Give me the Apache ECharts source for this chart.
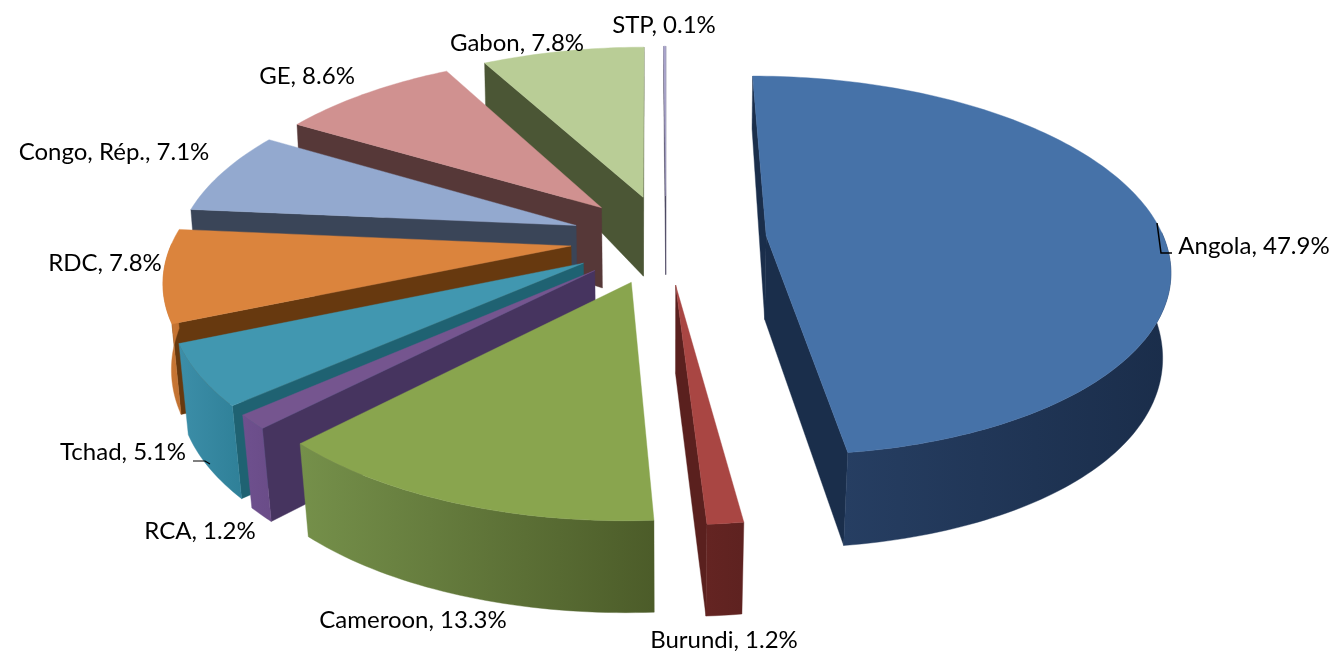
<!DOCTYPE html>
<html>
<head>
<meta charset="utf-8">
<style>html,body{margin:0;padding:0;background:#fff}#c{width:1340px;height:651px}</style>
<script src="https://cdn.jsdelivr.net/npm/echarts@6/dist/echarts.min.js"></script>
</head>
<body>
<div id="c"></div>
<script>
const categories = ['Angola','Burundi','Cameroon','RCA','Tchad','RDC','Congo, Rép.','GE','Gabon','STP'];
const shares = [47.9,1.2,13.3,1.2,5.1,7.8,7.1,8.6,7.8,0.1];

const topColors  = ['#4672A8','#A94643','#89A54E','#75558F','#4197B0','#DB843D','#93A9CF','#D09190','#B9CD96','#A9A4CC'];
const edgeColors = ['#1A2E4B','#5A201E','#4F5F2B','#46345F','#1F6272','#67390F','#3A4558','#563838','#4B5635','#3F3A55'];
const rimLeft    = ['#263E62','#642422','#75904A','#6E508E','#3C8EA8','#CF7C38','#6E84A8','#A06E6E','#8FA070','#555555'];
const rimRight   = ['#1A2D4A','#5E2220','#4C5C29','#6A4C88','#2F8098','#C07030','#60769A','#906060','#8A9A6A','#555555'];
const stack      = {9:0,8:1,7:2,6:3,5:4,4:5,3:6,2:7,0:8,1:9};
const labelCentres = [[1254,246],[724,640],[413,620],[200,531],[123,452],[105,263],[114,152],[307,76],[517,43],[664,25]];

const view = {cx:666, cy:239, A:398, B:185.8, k:0.157};
const explodeBy = [0.253,0.24,0.24,0.24,0.24,0.24,0.24,0.24,0.24,0.24];
const total = shares.reduce(function(a,b){return a+b;},0);
const starts = [];
shares.reduce(function(acc,v,i){starts[i]=acc;return acc+v/total*Math.PI*2;},0);

function wallHeight(y){return 84+19.7*y-10.8*y*y;}
function project(x,y,low){
  const w=1-view.k*y;
  let px=view.A*x/w, py=view.cy+view.B*y/w;
  if(low){px*=1-0.015-0.008*y; py+=wallHeight(y);}
  return [view.cx+px,py];
}
function signedArea(pts){
  let s=0;
  for(let i=0;i<pts.length;i++){
    const a=pts[i], b=pts[(i+1)%pts.length];
    s+=a[0]*b[1]-b[0]*a[1];
  }
  return s;
}

function renderItem(params,api){
  const i=api.value(0), v=api.value(1);
  const a0=starts[i], a1=a0+v/total*Math.PI*2, mid=(a0+a1)/2;
  const e=explodeBy[i];
  const ox=e*Math.sin(mid), oy=-e*Math.cos(mid);
  const rim=[];
  const steps=Math.max(2,Math.ceil((a1-a0)/0.02));
  for(let s=0;s<=steps;s++){
    const t=a0+(a1-a0)*s/steps;
    rim.push([ox+Math.sin(t),oy-Math.cos(t)]);
  }
  const up=function(p){return project(p[0],p[1],false);};
  const dn=function(p){return project(p[0],p[1],true);};
  const apex=[ox,oy];
  const first=rim[0], last=rim[rim.length-1];
  const base=stack[i]*10;
  const poly=function(points,fill,z){
    return {type:'polygon',z2:base+z,shape:{points:points},
      style:{fill:fill,stroke:fill,lineWidth:0.4}};
  };
  const grad=new echarts.graphic.LinearGradient(0,0,1,0,[
    {offset:0,color:rimLeft[i]},{offset:1,color:rimRight[i]}]);
  const front=rim.filter(function(p){return p[1]-oy>-0.02;});
  const children=[];
  const endWall=[up(apex),up(last),dn(last),dn(apex)];
  const startWall=[up(apex),up(first),dn(first),dn(apex)];
  if(signedArea(endWall)>0) children.push(poly(endWall,edgeColors[i],1));
  if(signedArea(startWall)<0) children.push(poly(startWall,edgeColors[i],2));
  if(front.length>1){
    children.push(poly(front.map(up).concat(front.slice().reverse().map(dn)),grad,3));
  }
  children.push(poly([up(apex)].concat(rim.map(up)),topColors[i],4));
  return {type:'group',children:children};
}

function labelItem(params,api){
  const i=api.value(0);
  const c=labelCentres[i];
  return {type:'text',z2:500,x:c[0],y:c[1],style:{
    text:categories[i]+', '+shares[i]+'%',
    fontFamily:'Lato, Carlito, sans-serif',fontSize:24,fill:'#000',
    align:'center',verticalAlign:'middle'}};
}

const chart=echarts.init(document.getElementById('c'),null,{renderer:'canvas'});
const rows=shares.map(function(v,i){return [i,v];});
chart.setOption({
  animation:false,
  backgroundColor:'#fff',
  series:[
    {type:'custom',coordinateSystem:'none',silent:true,data:rows,renderItem:renderItem,z:2},
    {type:'custom',coordinateSystem:'none',silent:true,data:rows,renderItem:labelItem,z:4}
  ],
  graphic:[
    {type:'polyline',z:3,shape:{points:[[1157,223],[1161,253],[1172,253]]},style:{stroke:'#000',lineWidth:1.5,fill:null}},
    {type:'polyline',z:3,shape:{points:[[193,461],[205,461],[210,464]]},style:{stroke:'#000',lineWidth:1.2,fill:null}}
  ]
});
</script>
</body>
</html>
